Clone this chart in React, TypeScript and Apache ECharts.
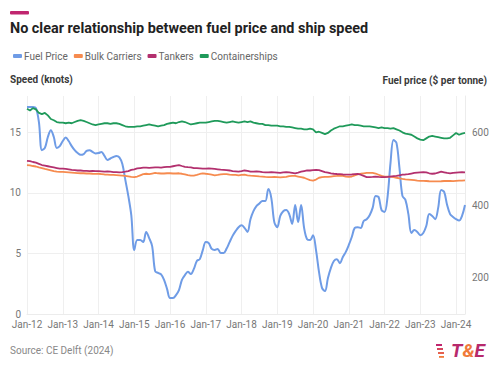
import React, { useEffect, useRef } from "react";
import * as echarts from "echarts";

const startYear = 2012;
const monthCount = 148;
const months: string[] = [];
for (let i = 0; i < monthCount; i++) {
  const y = startYear + Math.floor(i / 12);
  const m = ["Jan","Feb","Mar","Apr","May","Jun","Jul","Aug","Sep","Oct","Nov","Dec"][i % 12];
  months.push(`${m}-${String(y).slice(2)}`);
}

const seriesNames = ["Fuel Price", "Bulk Carriers", "Tankers", "Containerships"];

// $ per tonne
const fuelPrice = [
  670, 670, 670, 667, 628, 551, 557, 587, 606, 587, 557, 562,
  576, 586, 576, 562, 551, 543, 538, 540, 549, 551, 546, 542,
  543, 546, 535, 524, 528, 532, 535, 531, 513, 469, 425, 372,
  276, 304, 304, 298, 326, 309, 287, 218, 213, 209, 194, 169,
  144, 144, 152, 166, 194, 207, 216, 210, 224, 246, 251, 276,
  298, 295, 279, 276, 279, 268, 268, 280, 298, 315, 328, 339,
  344, 337, 326, 361, 383, 397, 404, 411, 411, 444, 419, 353,
  339, 370, 383, 386, 375, 348, 400, 353, 400, 337, 306, 304,
  317, 276, 216, 172, 163, 199, 227, 246, 251, 240, 257, 271,
  290, 312, 337, 339, 337, 356, 361, 372, 392, 425, 422, 386,
  381, 422, 516, 579, 571, 502, 425, 414, 375, 323, 331, 326,
  317, 323, 342, 375, 370, 361, 392, 441, 436, 400, 375, 367,
  361, 357, 370, 400,
];

// knots
const bulkCarriers = [
  12.3, 12.28, 12.22, 12.18, 12.1, 12.05, 11.98, 11.92, 11.86, 11.8, 11.76, 11.74,
  11.74, 11.72, 11.7, 11.68, 11.66, 11.64, 11.62, 11.62, 11.6, 11.6, 11.58, 11.57,
  11.58, 11.55, 11.52, 11.5, 11.48, 11.48, 11.46, 11.44, 11.42, 11.4, 11.36, 11.32,
  11.3, 11.35, 11.45, 11.55, 11.58, 11.55, 11.6, 11.65, 11.62, 11.6, 11.6, 11.62,
  11.62, 11.6, 11.6, 11.62, 11.58, 11.52, 11.46, 11.42, 11.43, 11.48, 11.56, 11.62,
  11.58, 11.55, 11.5, 11.45, 11.48, 11.52, 11.55, 11.55, 11.5, 11.48, 11.48, 11.45,
  11.48, 11.5, 11.45, 11.42, 11.4, 11.38, 11.36, 11.35, 11.32, 11.3, 11.3, 11.32,
  11.3, 11.28, 11.3, 11.32, 11.38, 11.4, 11.4, 11.35, 11.3, 11.25, 11.15, 11.05,
  11.02, 11.1, 11.25, 11.3, 11.32, 11.32, 11.35, 11.38, 11.4, 11.43, 11.4, 11.35,
  11.32, 11.35, 11.45, 11.52, 11.58, 11.62, 11.65, 11.65, 11.65, 11.6, 11.5, 11.4,
  11.35, 11.35, 11.34, 11.3, 11.25, 11.2, 11.15, 11.12, 11.1, 11.08, 11.05, 11.02,
  11.0, 11.0, 10.98, 10.96, 10.95, 10.95, 10.95, 10.96, 10.98, 10.98, 10.98, 10.97,
  11.0, 11.02, 11.02, 11.03,
];

const tankers = [
  12.65, 12.62, 12.55, 12.5, 12.4, 12.3, 12.25, 12.2, 12.15, 12.1, 12.05, 12.0,
  12.0, 11.98, 11.95, 11.9, 11.88, 11.85, 11.85, 11.82, 11.82, 11.8, 11.82, 11.8,
  11.8, 11.78, 11.76, 11.78, 11.75, 11.72, 11.72, 11.7, 11.72, 11.75, 11.8, 11.9,
  11.95, 12.02, 12.05, 12.08, 12.08, 12.06, 12.08, 12.1, 12.1, 12.08, 12.12, 12.15,
  12.15, 12.2, 12.25, 12.3, 12.22, 12.15, 12.12, 12.1, 12.05, 12.04, 12.02, 12.0,
  12.0, 12.02, 12.0, 11.98, 11.95, 11.92, 11.9, 11.88, 11.85, 11.8, 11.78, 11.76,
  11.8, 11.85, 11.82, 11.75, 11.76, 11.78, 11.76, 11.72, 11.7, 11.7, 11.72, 11.7,
  11.68, 11.66, 11.7, 11.72, 11.7, 11.66, 11.62, 11.68, 11.75, 11.8, 11.85, 11.85,
  11.88, 11.9, 11.88, 11.8, 11.72, 11.68, 11.62, 11.58, 11.56, 11.55, 11.52, 11.5,
  11.5, 11.52, 11.55, 11.56, 11.5, 11.4, 11.3, 11.3, 11.32, 11.35, 11.32, 11.3,
  11.3, 11.32, 11.35, 11.38, 11.4, 11.45, 11.5, 11.52, 11.55, 11.6, 11.65, 11.68,
  11.7, 11.72, 11.7, 11.62, 11.58, 11.6, 11.68, 11.75, 11.7, 11.65, 11.62, 11.66,
  11.68, 11.7, 11.72, 11.7,
];

const containerships = [
  16.95, 16.8, 17.0, 16.9, 16.6, 16.5, 16.6, 16.4, 16.1, 16.0, 15.85, 15.8,
  15.8, 15.75, 15.8, 15.75, 15.85, 15.95, 16.0, 15.95, 15.85, 15.75, 15.65, 15.6,
  15.65, 15.7, 15.75, 15.75, 15.7, 15.75, 15.75, 15.7, 15.6, 15.5, 15.45, 15.45,
  15.45, 15.5, 15.5, 15.55, 15.6, 15.65, 15.6, 15.55, 15.5, 15.55, 15.6, 15.7,
  15.75, 15.8, 15.75, 15.85, 15.9, 15.85, 15.75, 15.65, 15.7, 15.75, 15.8, 15.8,
  15.8, 15.85, 15.9, 15.95, 15.95, 15.9, 15.85, 15.8, 15.85, 15.9, 15.85, 15.8,
  15.85, 15.9, 15.85, 15.9, 15.8, 15.75, 15.7, 15.7, 15.6, 15.6, 15.55, 15.55,
  15.55, 15.5, 15.5, 15.45, 15.45, 15.4, 15.35, 15.3, 15.3, 15.25, 15.25, 15.3,
  15.25, 15.0, 15.05, 14.95, 14.85, 14.95, 15.15, 15.3, 15.4, 15.5, 15.5, 15.55,
  15.6, 15.65, 15.6, 15.6, 15.55, 15.5, 15.5, 15.5, 15.45, 15.4, 15.35, 15.4,
  15.35, 15.35, 15.3, 15.35, 15.25, 15.15, 15.0, 14.9, 14.85, 14.8, 14.65, 14.5,
  14.4, 14.35, 14.5, 14.65, 14.7, 14.65, 14.6, 14.55, 14.5, 14.5, 14.55, 14.75,
  14.95, 14.8, 14.9, 14.95,
];

const speedTicks = [0, 5, 10, 15];
const priceTicks = [200, 400, 600];

const colors = ["#6f9ce6", "#f68b4f", "#b3306e", "#1f9a5a"];
const FONT = "Roboto, 'Noto Sans', sans-serif";

export default function App() {
  const ref = useRef<HTMLDivElement>(null);
  useEffect(() => {
    if (!ref.current) return;
    const chart = echarts.init(ref.current, undefined, { renderer: "svg" });
    const lineData = [fuelPrice, bulkCarriers, tankers, containerships];
    chart.setOption({
      animation: false,
      backgroundColor: "#ffffff",
      textStyle: { fontFamily: FONT },
      grid: { left: 27, right: 35, top: 96, bottom: 58 },
      legend: {
        left: 8,
        top: 46,
        itemWidth: 9,
        itemHeight: 4,
        itemGap: 6,
        icon: "roundRect",
        textStyle: { fontSize: 10, color: "#666", fontFamily: FONT, padding: [0, 0, 0, -3] },
        data: seriesNames,
      },
      xAxis: {
        type: "category",
        data: months,
        boundaryGap: false,
        axisLine: { show: true, lineStyle: { color: "#ececec" } },
        axisTick: { show: false },
        axisLabel: {
          interval: (i: number) => i % 12 === 0,
          color: "#777",
          fontSize: 10,
          margin: 5,
          fontFamily: FONT,
        },
        splitLine: {
          show: true,
          interval: (i: number) => i % 12 === 0,
          lineStyle: { color: "#efefef", width: 1 },
        },
      },
      yAxis: [
        {
          type: "value",
          min: 0,
          max: 18,
          interval: 5,
          axisLine: { show: false },
          axisTick: { show: false },
          axisLabel: {
            color: "#777",
            fontSize: 10,
            margin: 6,
            showMaxLabel: false,
            fontFamily: FONT,
            formatter: (v: number) => (speedTicks.includes(v) ? String(v) : ""),
          },
          splitLine: { show: true, showMaxLine: false, lineStyle: { color: "#efefef" } },
        },
        {
          type: "value",
          min: 100,
          max: 700,
          interval: 100,
          position: "right",
          axisLine: { show: true, lineStyle: { color: "#ececec" } },
          axisTick: { show: false },
          axisLabel: {
            color: "#777",
            fontSize: 10,
            margin: 7,
            fontFamily: FONT,
            formatter: (v: number) => (priceTicks.includes(v) ? String(v) : ""),
          },
          splitLine: { show: false },
        },
      ],
      series: seriesNames.map((name, k) => ({
        name,
        type: "line",
        yAxisIndex: k === 0 ? 1 : 0,
        data: lineData[k],
        showSymbol: false,
        smooth: k === 0 ? 0.35 : false,
        lineStyle: { width: k === 0 ? 2 : 1.8, color: colors[k] },
        itemStyle: { color: colors[k] },
        z: k === 0 ? 2 : 3,
      })),
      graphic: [
        { type: "rect", left: 10, top: 11, shape: { width: 19, height: 3.5, r: 1 }, style: { fill: "#c0266f" } },
        {
          type: "text",
          left: 10,
          top: 21,
          style: { text: "No clear relationship between fuel price and ship speed", font: `bold 14.4px ${FONT}`, fill: "#222" },
        },
        {
          type: "text",
          left: 10,
          top: 74,
          style: { text: "Speed (knots)", font: `bold 10px ${FONT}`, fill: "#3a3a3a" },
        },
        {
          type: "text",
          right: 13,
          top: 75,
          style: { text: "Fuel price ($ per tonne)", font: `bold 10px ${FONT}`, fill: "#3a3a3a" },
        },
        {
          type: "text",
          left: 10,
          top: 345,
          style: { text: "Source: CE Delft (2024)", font: `10px ${FONT}`, fill: "#888" },
        },
        { type: "rect", left: 436, top: 344, shape: { width: 6, height: 2 }, style: { fill: "#c0266f" } },
        { type: "rect", left: 437, top: 348, shape: { width: 6, height: 2 }, style: { fill: "#d5465f" } },
        { type: "rect", left: 438, top: 352, shape: { width: 6, height: 2 }, style: { fill: "#e5604f" } },
        { type: "rect", left: 439, top: 356, shape: { width: 5, height: 1.8 }, style: { fill: "#f07a3a" } },
        {
          type: "text",
          left: 451,
          top: 341,
          style: {
            text: "{a|T}{b|&}{a|E}",
            rich: {
              a: { font: `italic bold 19px ${FONT}`, fill: "#b7296c" },
              b: { font: `italic bold 19px ${FONT}`, fill: "#f07a3a" },
            },
          },
        },
      ],
    });
    return () => chart.dispose();
  }, []);
  return (
    <div
      ref={ref}
      style={{ position: "fixed", left: 0, top: 0, width: 500, height: 372, background: "#fff" }}
    />
  );
}
